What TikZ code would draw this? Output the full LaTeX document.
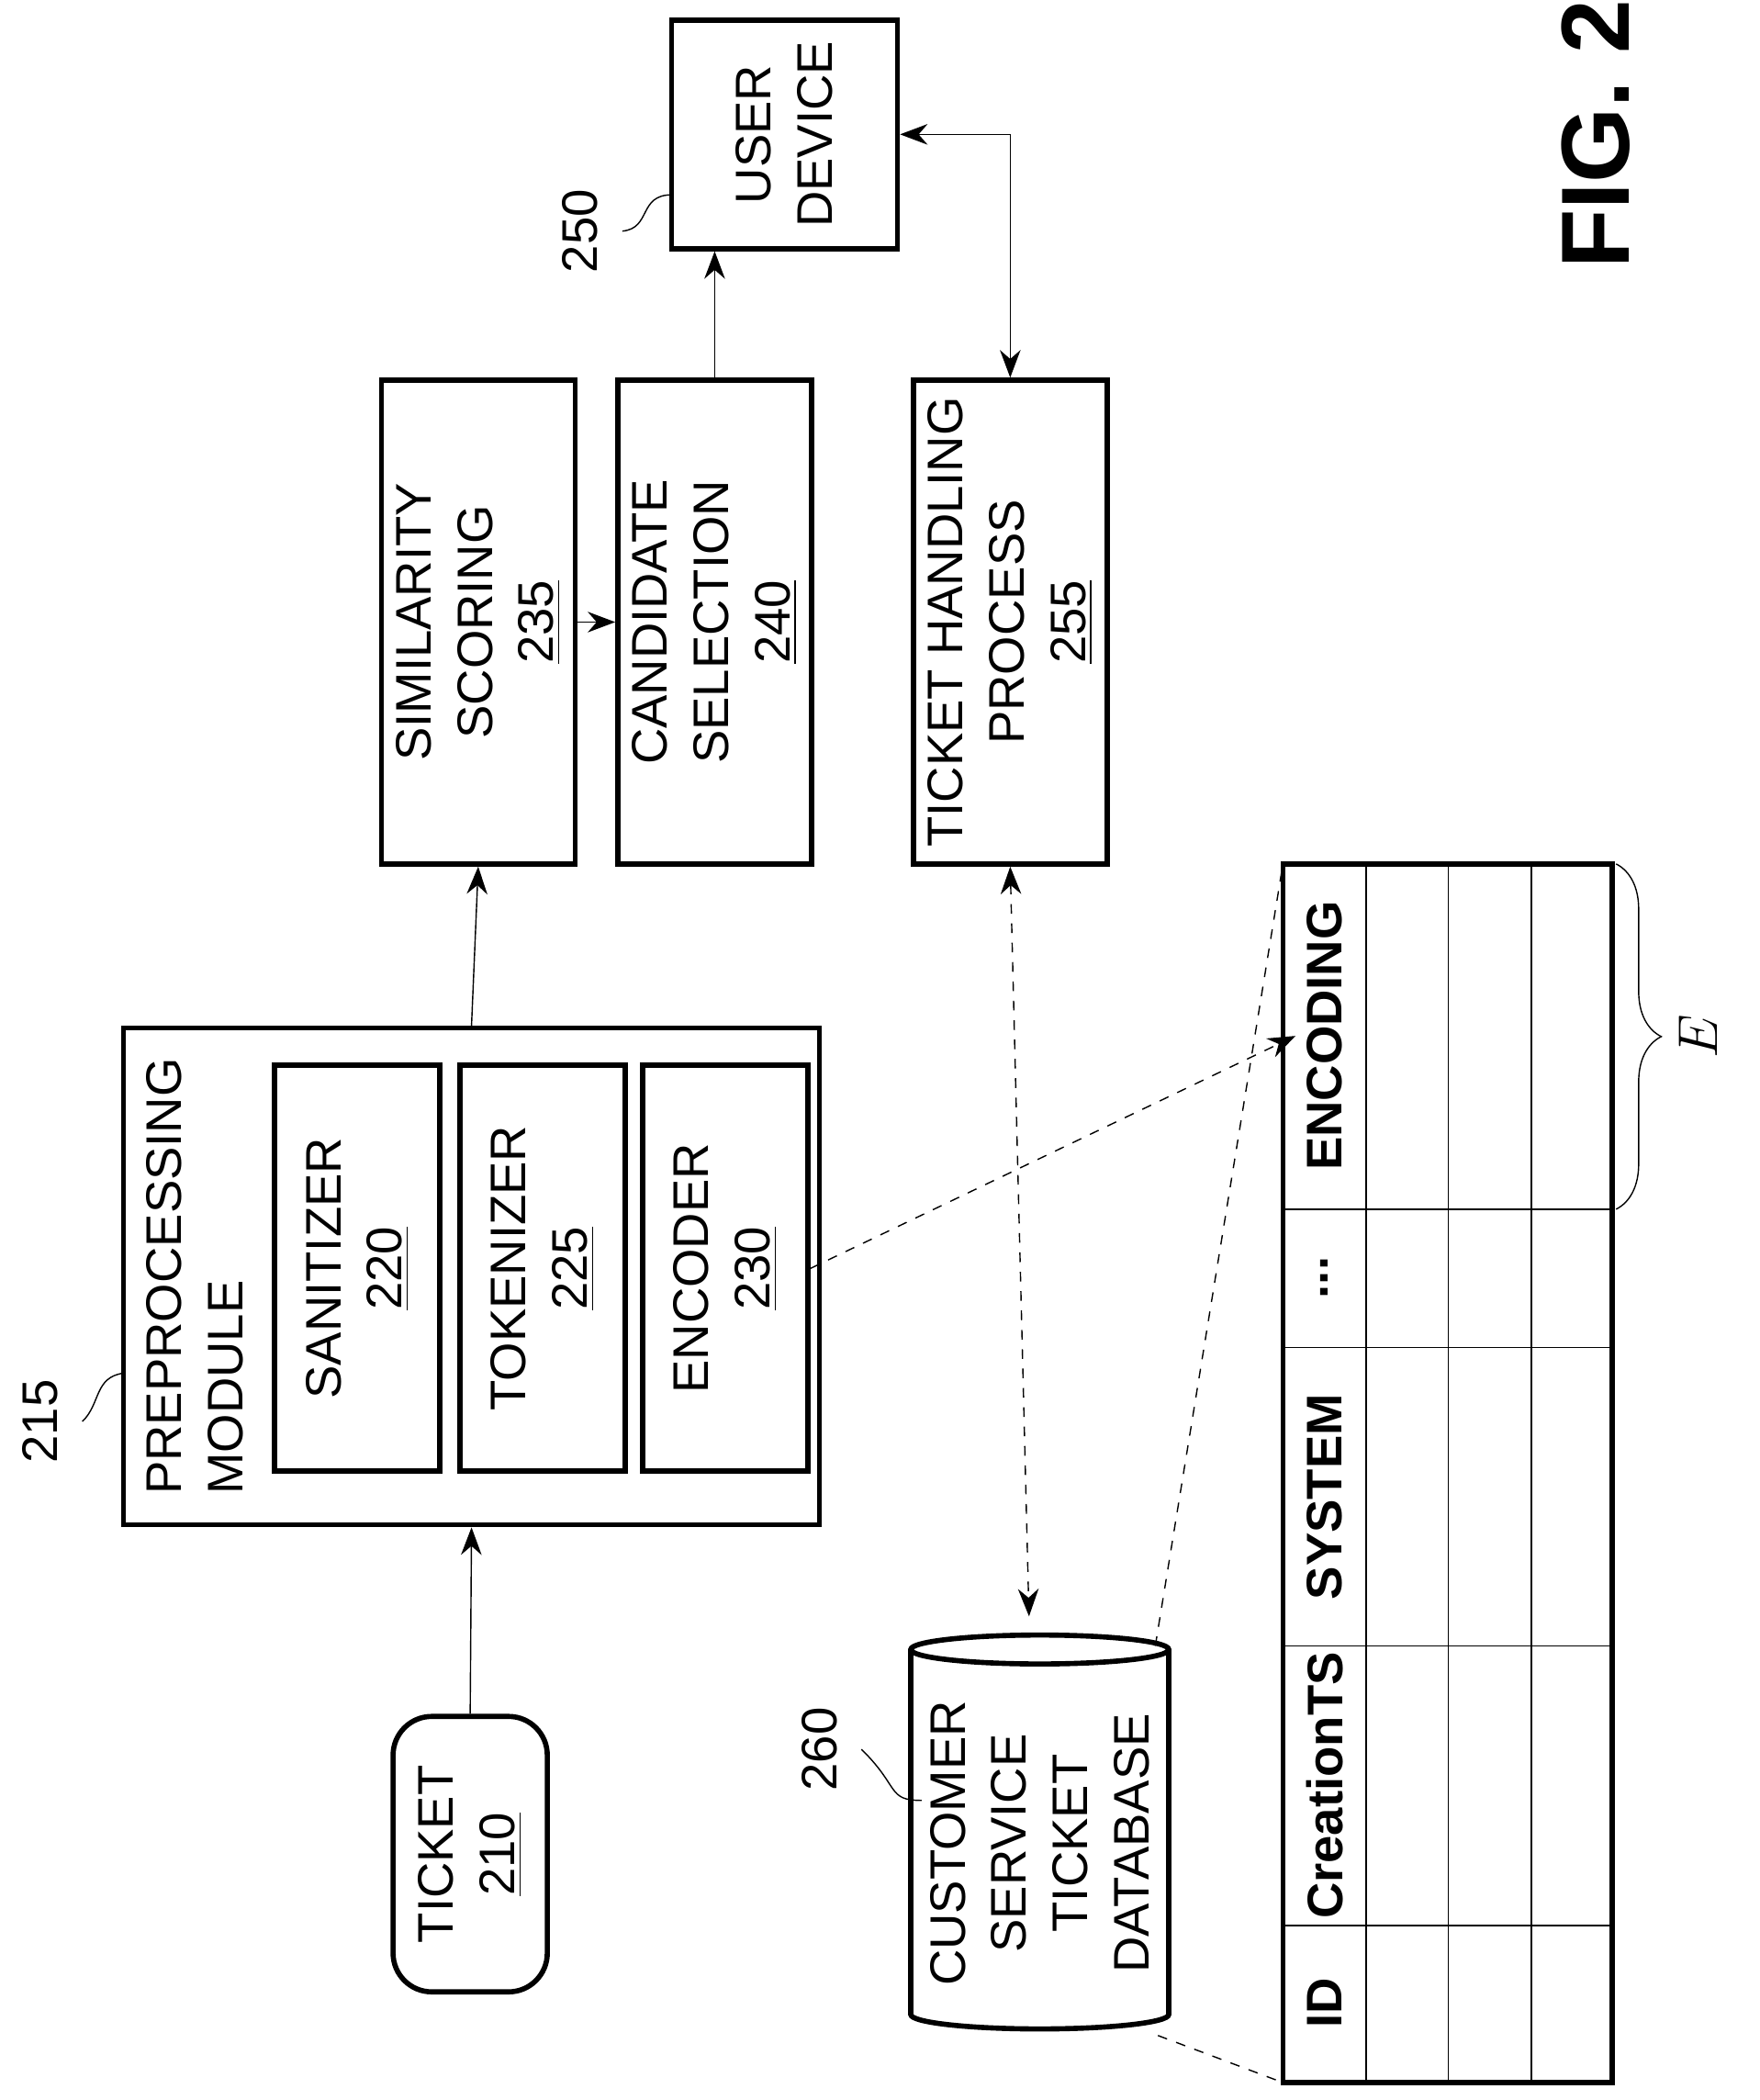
\documentclass[tikz,border=0pt]{standalone}
\usepackage{fontspec}
\setmainfont{Liberation Sans}
\usetikzlibrary{shapes.geometric,arrows.meta,positioning,calc,decorations.pathreplacing}

\begin{document}
\begin{tikzpicture}[
    x=0.014634cm, y=-0.014634cm,
    block/.style={
        rectangle,
        draw=black,
        line width=1.6pt,
        rotate=90,
        align=center,
        font=\fontsize{15.5}{19}\selectfont
    },
    arrow/.style={
        -{Stealth[length=3mm]},
        thin
    },
    dashlink/.style={
        {Stealth[length=3mm]}-{Stealth[length=3mm]},
        thin,
        dashed
    },
    header/.style={
        rotate=90,
        font=\fontsize{15.5}{19}\selectfont\bfseries
    },
    refnum/.style={
        rotate=90,
        font=\fontsize{15.5}{19}\selectfont
    }
]
\useasboundingbox (0,0) rectangle (1310,1563);

% Left column
\node[block, rounded corners=12pt, minimum width=3.0cm, minimum height=1.68cm] (ticket) at (350,1380) {TICKET\\\underline{210}};

\node[block, minimum width=5.41cm, minimum height=7.58cm] (pre) at (351,950) {};
\node[refnum, align=left] (prelabel) at (145,950) {PREPROCESSING\\MODULE};
\node[block, minimum width=4.42cm, minimum height=1.80cm] (san) at (266,944) {SANITIZER\\\underline{220}};
\node[block, minimum width=4.42cm, minimum height=1.80cm] (tok) at (404,944) {TOKENIZER\\\underline{225}};
\node[block, minimum width=4.42cm, minimum height=1.80cm] (enc) at (540,944) {ENCODER\\\underline{230}};

% Upper blocks
\node[block, minimum width=5.27cm, minimum height=2.11cm] (sim) at (356,463) {SIMILARITY\\SCORING\\\underline{235}};
\node[block, minimum width=5.27cm, minimum height=2.11cm] (cand) at (532,463) {CANDIDATE\\SELECTION\\\underline{240}};
\node[block, minimum width=5.27cm, minimum height=2.11cm] (proc) at (752,463) {TICKET HANDLING\\PROCESS\\\underline{255}};
\node[block, minimum width=2.49cm, minimum height=2.46cm] (user) at (584,100) {USER\\DEVICE};

% Database
\node[cylinder, draw=black, line width=1.6pt, rotate=90, shape aspect=0.12, align=center,
    minimum width=2.81cm, minimum height=4.29cm, font=\fontsize{15.5}{19}\selectfont] (db) at (774,1372) {CUSTOMER\\SERVICE\\TICKET\\DATABASE};

% Reference numbers
\node[refnum] (n215) at (30,1058) {215};
\node[refnum] (n250) at (432,172) {250};
\node[refnum] (n260) at (610,1302) {260};
\coordinate (p215) at (92,1022);
\coordinate (p250) at (500,145);
\coordinate (p260) at (686,1340);
\draw ([xshift=4pt]n215.south) .. controls (75,1045) and (70,1025) .. (p215);
\draw ([xshift=4pt]n250.south) .. controls (485,170) and (475,145) .. (p250);
\draw ([xshift=4pt]n260.south) .. controls (670,1330) and (660,1340) .. (p260);

% Arrows
\draw[arrow] (ticket.east) -- (pre.west);
\draw[arrow] (pre.east) -- (sim.west);
\draw[arrow] (sim.south) -- (cand.north);
\draw[arrow] (cand.east) -- (cand.east |- user.west);
\coordinate (bend) at (752,100);
\draw[{Stealth[length=3mm]}-{Stealth[length=3mm]}] (user.south) -- (bend) -- (proc.east);
\draw[dashlink] (proc.west) -- ($(db.east)+(-8,-12)$);

% Table
\draw[line width=1.6pt] (955,643) rectangle (1200,1550);
\foreach \x in {1017,1078,1140} \draw (\x,643) -- (\x,1550);
\foreach \y in {900,1003,1225,1433} \draw (955,\y) -- (1200,\y);
\node[header] (hEnc) at (986,771) {ENCODING};
\node[header] (hDots) at (986,951) {...};
\node[header] (hSys) at (986,1114) {SYSTEM};
\node[header] (hTS) at (986,1329) {CreationTS};
\node[header] (hID) at (986,1491) {ID};
\coordinate (tabTL) at (955,643);
\coordinate (tabBL) at (955,1550);
\coordinate (dbTR) at (860,1225);
\coordinate (dbBR) at (862,1515);
\draw[dashed] (dbTR) -- (tabTL);
\draw[dashed] (dbBR) -- (tabBL);
\draw[arrow, dashed] (enc.south) -- (hEnc.north);

% Brace
\draw[decorate, decoration={brace, amplitude=14pt}] (1203,643) -- (1203,900)
    node[midway, right=16pt, rotate=90, anchor=north, font=\fontsize{17}{21}\selectfont\itshape] (E) {$E$};

\node[rotate=90, font=\fontsize{30}{36}\selectfont\bfseries] (fig) at (1188,100) {FIG. 2};
\end{tikzpicture}
\end{document}
